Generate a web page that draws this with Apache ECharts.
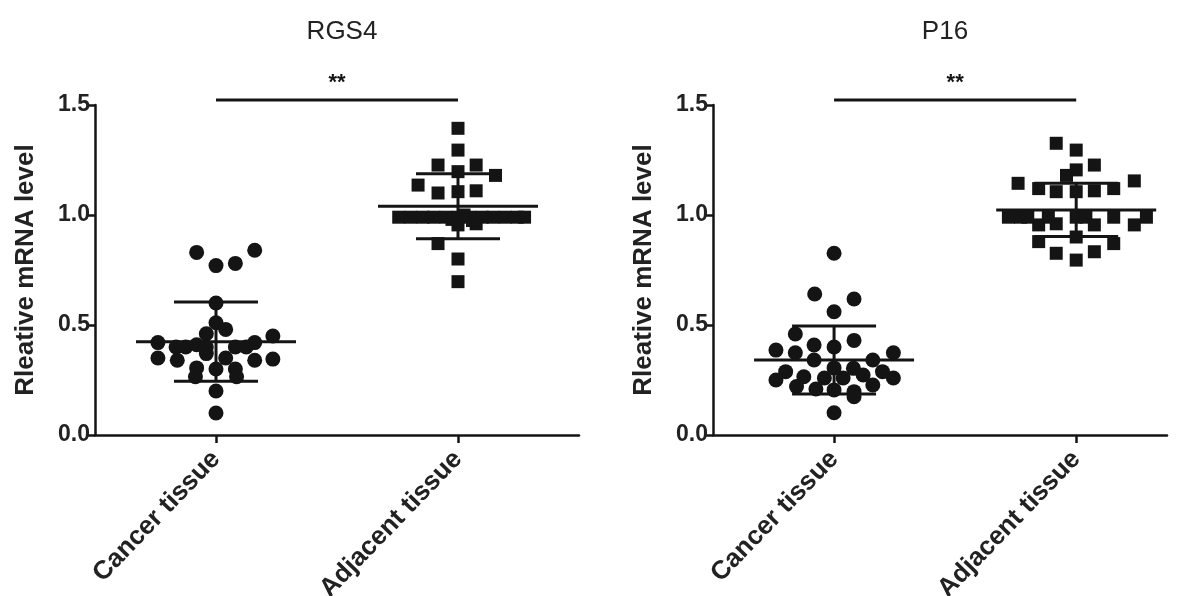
<!DOCTYPE html>
<html>
<head>
<meta charset="utf-8">
<script src="https://cdn.jsdelivr.net/npm/echarts@6/dist/echarts.min.js"></script>
<style>
  html, body { margin: 0; padding: 0; background: #fff; }
  #chart { width: 1192px; height: 596px; }
</style>
</head>
<body>
<div id="chart"></div>
<script>
// Dot plots: relative mRNA level, cancer vs adjacent tissue

const CATEGORIES = ['Cancer tissue', 'Adjacent tissue'];
const CATEGORY_POS = [1, 3];
const PANEL_TITLES = ['RGS4', 'P16'];
const SIGNIFICANCE = ['**', '**'];

// [jitter, value] pairs
const rgs4Cancer = [
    [-0.16, 0.83], [0.32, 0.84], [0, 0.77], [0.16, 0.78], [0, 0.60], [0, 0.51],
    [0.08, 0.48], [-0.08, 0.46], [-0.48, 0.42], [0.47, 0.45], [0.32, 0.42],
    [-0.33, 0.40], [-0.25, 0.40], [-0.16, 0.41], [-0.08, 0.40], [0.16, 0.40],
    [0.25, 0.40], [-0.48, 0.35], [-0.32, 0.34], [-0.08, 0.37], [0.08, 0.35],
    [0.32, 0.34], [0.47, 0.345], [-0.16, 0.305], [0, 0.30], [0.16, 0.30],
    [-0.17, 0.265], [0.17, 0.265], [0, 0.20], [0, 0.10],
];
const rgs4Adjacent = [
    [0, 1.394], [0, 1.295], [-0.165, 1.227], [0.15, 1.227], [0, 1.197], [0.31, 1.18],
    [-0.33, 1.136], [-0.165, 1.10], [0, 1.106], [0.15, 1.11],
    [-0.49, 0.99], [-0.39, 0.99], [-0.29, 0.99], [-0.2, 0.99], [-0.1, 0.99], [0, 0.99],
    [0.1, 0.99], [0.2, 0.99], [0.29, 0.99], [0.39, 0.99], [0.49, 0.99], [0.55, 0.99],
    [0.05, 1.0], [-0.05, 0.98], [0.12, 0.975],
    [0, 0.955], [0.15, 0.96], [-0.165, 0.87], [0, 0.80], [0, 0.697],
];
const p16Cancer = [
    [0, 0.826], [-0.16, 0.641], [0.165, 0.618], [0, 0.56], [-0.32, 0.459], [0.165, 0.43],
    [-0.48, 0.386], [-0.32, 0.374], [-0.165, 0.409], [0, 0.40], [0.49, 0.374],
    [-0.165, 0.341], [0, 0.305], [0.32, 0.341], [0.16, 0.303], [-0.40, 0.288],
    [-0.48, 0.25], [-0.25, 0.265], [-0.08, 0.259], [0.075, 0.259], [0.24, 0.273],
    [0.40, 0.288], [0.49, 0.259], [-0.31, 0.22], [-0.15, 0.209], [0, 0.205],
    [0.32, 0.227], [0.165, 0.197], [0.165, 0.174], [0, 0.101],
];
const p16Adjacent = [
    [-0.165, 1.326], [0, 1.295], [0.15, 1.227], [0, 1.205], [-0.08, 1.18], [-0.48, 1.144],
    [-0.31, 1.12], [-0.165, 1.106], [0, 1.106], [0.15, 1.11], [0.31, 1.12], [0.48, 1.155],
    [-0.56, 0.99], [-0.46, 0.99], [-0.31, 0.955], [-0.165, 0.96], [-0.23, 0.99], [0, 0.99],
    [0.08, 0.99], [0.15, 0.955], [0.31, 0.99], [0.48, 0.955], [0.58, 0.99], [-0.40, 0.99],
    [0, 0.90], [-0.31, 0.879], [-0.165, 0.826], [0, 0.795], [0.15, 0.833], [0.31, 0.87],
];

// mean and SD per group, as drawn
const rgs4Stats = [[0.424, 0.18], [1.04, 0.148]];
const p16Stats = [[0.341, 0.155], [1.023, 0.121]];
const bracketLevel = [1.523, 1.523];

const INK = '#141414';
const FONT = "'Liberation Sans', Arial, sans-serif";

function placed(group, center) {
    return group.map(d => [center + d[0], d[1]]);
}

function renderStats(params, api) {
    const x = api.value(0), m = api.value(1), sd = api.value(2);
    const mid = api.coord([x, m]);
    const hi = api.coord([x, m + sd]);
    const lo = api.coord([x, m - sd]);
    const style = { stroke: INK, lineWidth: 3 };
    return {
        type: 'group',
        children: [
            { type: 'line', shape: { x1: mid[0] - 80, y1: mid[1], x2: mid[0] + 80, y2: mid[1] }, style },
            { type: 'line', shape: { x1: hi[0] - 42, y1: hi[1], x2: hi[0] + 42, y2: hi[1] }, style },
            { type: 'line', shape: { x1: lo[0] - 42, y1: lo[1], x2: lo[0] + 42, y2: lo[1] }, style },
            { type: 'line', shape: { x1: hi[0], y1: hi[1], x2: lo[0], y2: lo[1] }, style },
        ],
    };
}

function makeBracketRenderer(mark) {
    return function (params, api) {
        const a = api.coord([api.value(0), api.value(2)]);
        const b = api.coord([api.value(1), api.value(2)]);
        return {
            type: 'group',
            children: [
                { type: 'line', shape: { x1: a[0], y1: a[1], x2: b[0], y2: b[1] }, style: { stroke: INK, lineWidth: 3 } },
                {
                    type: 'text',
                    style: {
                        x: (a[0] + b[0]) / 2, y: a[1] - 6, text: mark,
                        fill: INK, font: 'bold 22px ' + FONT, align: 'center', verticalAlign: 'bottom',
                    },
                },
            ],
        };
    };
}

const grids = [
    { left: 95, top: 105, width: 484, height: 330, outerBoundsMode: 'none', containLabel: false },
    { left: 713, top: 105, width: 454, height: 330, outerBoundsMode: 'none', containLabel: false },
];
const xMax = [4, 3.75];

const panels = [
    { cancer: rgs4Cancer, adjacent: rgs4Adjacent, stats: rgs4Stats },
    { cancer: p16Cancer, adjacent: p16Adjacent, stats: p16Stats },
];

const series = [];
panels.forEach((p, i) => {
    series.push({
        type: 'scatter', xAxisIndex: i, yAxisIndex: i,
        data: placed(p.cancer, CATEGORY_POS[0]),
        symbol: 'circle', symbolSize: 15,
        itemStyle: { color: INK, opacity: 1 },
        silent: true,
    });
    series.push({
        type: 'scatter', xAxisIndex: i, yAxisIndex: i,
        data: placed(p.adjacent, CATEGORY_POS[1]),
        symbol: 'rect', symbolSize: 13,
        itemStyle: { color: INK, opacity: 1 },
        silent: true,
    });
    series.push({
        type: 'custom', xAxisIndex: i, yAxisIndex: i,
        data: p.stats.map((s, k) => [CATEGORY_POS[k], s[0], s[1]]),
        renderItem: renderStats,
        z: 5, silent: true,
    });
    series.push({
        type: 'custom', xAxisIndex: i, yAxisIndex: i,
        data: [[CATEGORY_POS[0], CATEGORY_POS[1], bracketLevel[i]]],
        renderItem: makeBracketRenderer(SIGNIFICANCE[i]),
        clip: false, z: 5, silent: true,
    });
});

const chart = echarts.init(document.getElementById('chart'), null, { renderer: 'canvas' });
chart.setOption({
    backgroundColor: '#fff',
    animation: false,
    textStyle: { fontFamily: FONT },
    title: PANEL_TITLES.map((t, i) => ({
        text: t,
        left: grids[i].left + grids[i].width / 2,
        top: 14,
        textAlign: 'center',
        textStyle: { fontSize: 26, fontWeight: 'normal', color: '#222', fontFamily: FONT },
    })),
    grid: grids,
    xAxis: grids.map((g, i) => ({
        type: 'value', gridIndex: i, min: 0, max: xMax[i],
        splitLine: { show: false },
        axisLine: { show: true, onZero: false, lineStyle: { color: INK, width: 2.5 } },
        axisTick: { show: true, customValues: CATEGORY_POS, length: 8, lineStyle: { color: INK, width: 2.5 } },
        axisLabel: {
            customValues: CATEGORY_POS,
            formatter: v => CATEGORIES[CATEGORY_POS.indexOf(v)] || '',
            rotate: 46, margin: 20,
            fontSize: 26, fontWeight: 'bold', color: '#222', fontFamily: FONT,
        },
    })),
    yAxis: grids.map((g, i) => ({
        type: 'value', gridIndex: i, min: 0, max: 1.5, interval: 0.5,
        name: 'Rleative mRNA level', nameLocation: 'middle', nameGap: 56,
        nameTextStyle: { fontSize: 26, fontWeight: 'bold', color: '#222', fontFamily: FONT },
        splitLine: { show: false },
        axisLine: { show: true, lineStyle: { color: INK, width: 2.5 } },
        axisTick: { show: true, length: 8, lineStyle: { color: INK, width: 2.5 } },
        axisLabel: {
            formatter: v => v.toFixed(1), margin: 5,
            fontSize: 23, fontWeight: 'bold', color: '#222', fontFamily: FONT,
        },
    })),
    series,
});
</script>
</body>
</html>
